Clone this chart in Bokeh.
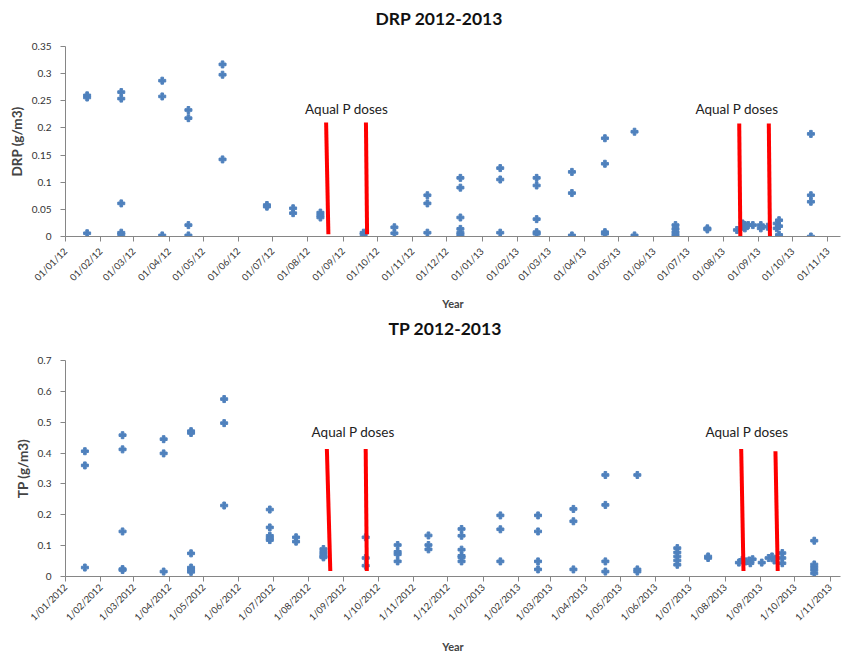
import math
import pandas as pd
from bokeh.plotting import figure
from bokeh.models import FixedTicker, Range1d, ColumnDataSource, NumeralTickFormatter
from bokeh.layouts import column
from bokeh.embed import file_html
from bokeh.resources import INLINE
from bokeh.core.properties import value

# ---------------- data ----------------
drp_tick_labels = ["01/01/12", "01/02/12", "01/03/12", "01/04/12", "01/05/12", "01/06/12",
                   "01/07/12", "01/08/12", "01/09/12", "01/10/12", "01/11/12", "01/12/12",
                   "01/01/13", "01/02/13", "01/03/13", "01/04/13", "01/05/13", "01/06/13",
                   "01/07/13", "01/08/13", "01/09/13", "01/10/13", "01/11/13"]
tp_tick_labels = ["1/01/2012", "1/02/2012", "1/03/2012", "1/04/2012", "1/05/2012", "1/06/2012",
                  "1/07/2012", "1/08/2012", "1/09/2012", "1/10/2012", "1/11/2012", "1/12/2012",
                  "1/01/2013", "1/02/2013", "1/03/2013", "1/04/2013", "1/05/2013", "1/06/2013",
                  "1/07/2013", "1/08/2013", "1/09/2013", "1/10/2013", "1/11/2013"]

drp_dates = (["2012-01-20"] * 3 + ["2012-02-19"] * 5 + ["2012-03-26"] * 3 + ["2012-04-18"] * 4 +
             ["2012-05-18"] * 3 + ["2012-06-26"] * 2 + ["2012-07-19"] * 2 + ["2012-08-12"] * 3 +
             ["2012-09-19"] * 2 + ["2012-10-16"] * 2 + ["2012-11-14"] * 3 + ["2012-12-13"] * 6 +
             ["2013-01-17"] * 3 + ["2013-02-18"] * 5 + ["2013-03-21"] * 3 + ["2013-04-19"] * 4 +
             ["2013-05-15"] * 2 + ["2013-06-20"] * 4 + ["2013-07-18"] * 2 + ["2013-08-13"] * 1 +
             ["2013-08-18"] * 2 + ["2013-08-20"] * 2 + ["2013-08-23"] * 1 + ["2013-08-27"] * 1 +
             ["2013-09-03"] * 2 + ["2013-09-09"] * 1 + ["2013-09-17"] * 2 + ["2013-09-19"] * 3 +
             ["2013-10-17"] * 4)
drp_values = [0.260, 0.256, 0.006,
              0.266, 0.254, 0.061, 0.007, 0.004,
              0.287, 0.258, 0.002,
              0.233, 0.218, 0.021, 0.002,
              0.317, 0.298, 0.142,
              0.058, 0.055,
              0.052, 0.043,
              0.044, 0.039, 0.035,
              0.007, 0.004,
              0.017, 0.006,
              0.076, 0.061, 0.007,
              0.108, 0.090, 0.035, 0.014, 0.007, 0.003,
              0.126, 0.105, 0.007,
              0.108, 0.094, 0.032, 0.008, 0.005,
              0.119, 0.080, 0.002,
              0.181, 0.134, 0.008, 0.005,
              0.193, 0.002,
              0.021, 0.014, 0.008, 0.003,
              0.015, 0.013,
              0.012,
              0.024, 0.018,
              0.015, 0.021,
              0.021,
              0.021,
              0.021, 0.015,
              0.018,
              0.024, 0.015,
              0.030, 0.019, 0.003,
              0.189, 0.076, 0.064, 0.000]

tp_dates = (["2012-01-18"] * 3 + ["2012-02-20"] * 5 + ["2012-03-27"] * 3 + ["2012-04-20"] * 6 +
            ["2012-05-19"] * 3 + ["2012-06-28"] * 5 + ["2012-07-21"] * 2 + ["2012-08-14"] * 5 +
            ["2012-09-20"] * 3 + ["2012-10-18"] * 4 + ["2012-11-14"] * 3 + ["2012-12-13"] * 6 +
            ["2013-01-16"] * 3 + ["2013-02-18"] * 4 + ["2013-03-21"] * 3 + ["2013-04-18"] * 4 +
            ["2013-05-16"] * 3 + ["2013-06-20"] * 5 + ["2013-07-17"] * 2 + ["2013-08-13"] * 1 +
            ["2013-08-16"] * 1 + ["2013-08-19"] * 1 + ["2013-08-22"] * 1 + ["2013-08-23"] * 1 +
            ["2013-08-25"] * 1 + ["2013-09-02"] * 1 + ["2013-09-08"] * 1 + ["2013-09-11"] * 1 +
            ["2013-09-13"] * 1 + ["2013-09-20"] * 3 + ["2013-10-18"] * 5)
tp_values = [0.406, 0.360, 0.029,
             0.458, 0.412, 0.146, 0.024, 0.021,
             0.445, 0.399, 0.016,
             0.471, 0.465, 0.075, 0.029, 0.022, 0.015,
             0.575, 0.497, 0.230,
             0.217, 0.159, 0.132, 0.124, 0.118,
             0.127, 0.113,
             0.089, 0.080, 0.072, 0.065, 0.062,
             0.127, 0.060, 0.035,
             0.102, 0.080, 0.072, 0.049,
             0.133, 0.102, 0.088,
             0.154, 0.132, 0.087, 0.067, 0.062, 0.049,
             0.198, 0.153, 0.049,
             0.198, 0.146, 0.049, 0.023,
             0.219, 0.179, 0.023,
             0.329, 0.232, 0.049, 0.016,
             0.329, 0.023, 0.016,
             0.092, 0.078, 0.065, 0.052, 0.038,
             0.065, 0.060,
             0.045,
             0.054,
             0.049,
             0.052,
             0.043,
             0.056,
             0.045,
             0.060,
             0.065,
             0.052,
             0.076, 0.060, 0.043,
             0.116, 0.039, 0.030, 0.021, 0.010]

# Aqual P dose marker lines (slightly slanted: top date -> bottom date)
drp_dose_top_dates = ["2012-08-17", "2012-09-21", "2013-08-15", "2013-09-10"]
drp_dose_bot_dates = ["2012-08-19", "2012-09-22", "2013-08-16", "2013-09-11"]
drp_dose_top_vals = [0.21, 0.21, 0.208, 0.208]
drp_dose_bot_vals = [0.004, 0.004, 0.0, 0.0]
drp_note_dates = ["2012-09-04", "2013-08-13"]
drp_note_vals = [0.234, 0.235]

tp_dose_top_dates = ["2012-08-17", "2012-09-20", "2013-08-15", "2013-09-14"]
tp_dose_bot_dates = ["2012-08-20", "2012-09-21", "2013-08-17", "2013-09-16"]
tp_dose_top_vals = [0.413, 0.413, 0.413, 0.406]
tp_dose_bot_vals = [0.018, 0.018, 0.018, 0.018]
tp_note_dates = ["2012-09-09", "2013-08-20"]
tp_note_vals = [0.467, 0.467]

FONT = "Lato"
BLUE = "#4F81BD"


def make_chart(title, title_offset, title_pad, ylabel, tick_labels, tick_fmt, dates, values,
               ymax, ystep, yfmt, dose_top_d, dose_bot_d, dose_top_v, dose_bot_v, note_d, note_v,
               height, x_end, border_left, border_right, border_top, border_bottom,
               lab_standoff, xlab_standoff):
    ticks = pd.to_datetime(tick_labels, format=tick_fmt)
    tick_ms = [int(t.value // 10**6) for t in ticks]
    p = figure(width=847, height=height, x_axis_type="datetime",
               x_range=Range1d(pd.Timestamp("2012-01-01"), pd.Timestamp(x_end)),
               y_range=Range1d(0, ymax),
               output_backend="svg", toolbar_location=None,
               min_border_left=border_left, min_border_right=border_right,
               min_border_top=border_top, min_border_bottom=border_bottom)
    p.outline_line_color = None
    p.grid.visible = False
    p.background_fill_color = "white"

    p.title.text = title
    p.title.text_font = FONT
    p.title.text_font_style = "bold"
    p.title.text_font_size = "17.5px"
    p.title.text_color = "#111111"
    p.title.align = "left"
    p.title.offset = title_offset
    p.title.standoff = 0
    p.title.padding = dict(left=0, right=0, top=0, bottom=title_pad)

    src = ColumnDataSource(dict(x=pd.to_datetime(dates), y=values))
    p.scatter("x", "y", source=src, marker="plus", size=7, color=BLUE)

    dsrc = ColumnDataSource(dict(x0=pd.to_datetime(dose_top_d), y0=dose_top_v,
                                 x1=pd.to_datetime(dose_bot_d), y1=dose_bot_v))
    p.segment("x0", "y0", "x1", "y1", source=dsrc, line_color="#FF0000", line_width=4)

    nsrc = ColumnDataSource(dict(x=pd.to_datetime(note_d), y=note_v,
                                 t=["Aqual P doses"] * len(note_d)))
    p.text("x", "y", text="t", source=nsrc, text_align="center", text_baseline="middle",
           text_font=value(FONT), text_font_size="13.5px", text_color="#222222")

    ax = p.xaxis[0]
    ax.ticker = FixedTicker(ticks=tick_ms)
    ax.major_label_overrides = {t: lab for t, lab in zip(tick_ms, tick_labels)}
    ax.major_label_orientation = math.pi / 4
    ax.major_label_text_font = FONT
    ax.major_label_text_font_size = "9.5px"
    ax.major_label_text_color = "#333333"
    ax.major_label_standoff = lab_standoff
    ax.axis_label = "Year"
    ax.axis_label_text_font = FONT
    ax.axis_label_text_font_style = "bold"
    ax.axis_label_text_font_size = "11px"
    ax.axis_label_standoff = xlab_standoff
    ax.axis_line_color = "#868686"
    ax.major_tick_line_color = "#868686"
    ax.major_tick_in = 0
    ax.major_tick_out = 5
    ax.minor_tick_line_color = None

    ay = p.yaxis[0]
    n = int(round(ymax / ystep))
    ay.ticker = FixedTicker(ticks=[round(i * ystep, 3) for i in range(n + 1)])
    ay.formatter = NumeralTickFormatter(format=yfmt)
    ay.major_label_text_font = FONT
    ay.major_label_text_font_size = "10px"
    ay.major_label_text_color = "#333333"
    ay.major_label_standoff = 9
    ay.axis_label = ylabel
    ay.axis_label_text_font = FONT
    ay.axis_label_text_font_style = "bold"
    ay.axis_label_text_font_size = "13.5px"
    ay.axis_label_standoff = 4
    ay.axis_line_color = "#868686"
    ay.major_tick_line_color = "#868686"
    ay.major_tick_in = 0
    ay.major_tick_out = 5
    ay.minor_tick_line_color = None
    return p


p1 = make_chart("DRP 2012-2013", 310, 18, "DRP (g/m3)", drp_tick_labels, "%d/%m/%y",
                drp_dates, drp_values, 0.35, 0.05, "0.[00]",
                drp_dose_top_dates, drp_dose_bot_dates, drp_dose_top_vals, drp_dose_bot_vals,
                drp_note_dates, drp_note_vals,
                height=312, x_end="2013-11-12", border_left=65, border_right=7,
                border_top=46, border_bottom=74, lab_standoff=8, xlab_standoff=7)
p2 = make_chart("TP 2012-2013", 323, 22, "TP (g/m3)", tp_tick_labels, "%d/%m/%Y",
                tp_dates, tp_values, 0.7, 0.1, "0.[0]",
                tp_dose_top_dates, tp_dose_bot_dates, tp_dose_top_vals, tp_dose_bot_vals,
                tp_note_dates, tp_note_vals,
                height=344, x_end="2013-11-10", border_left=62, border_right=2,
                border_top=48, border_bottom=80, lab_standoff=4, xlab_standoff=10)

layout = column(p1, p2, spacing=0)
open("out.html", "w").write(file_html(layout, INLINE))
